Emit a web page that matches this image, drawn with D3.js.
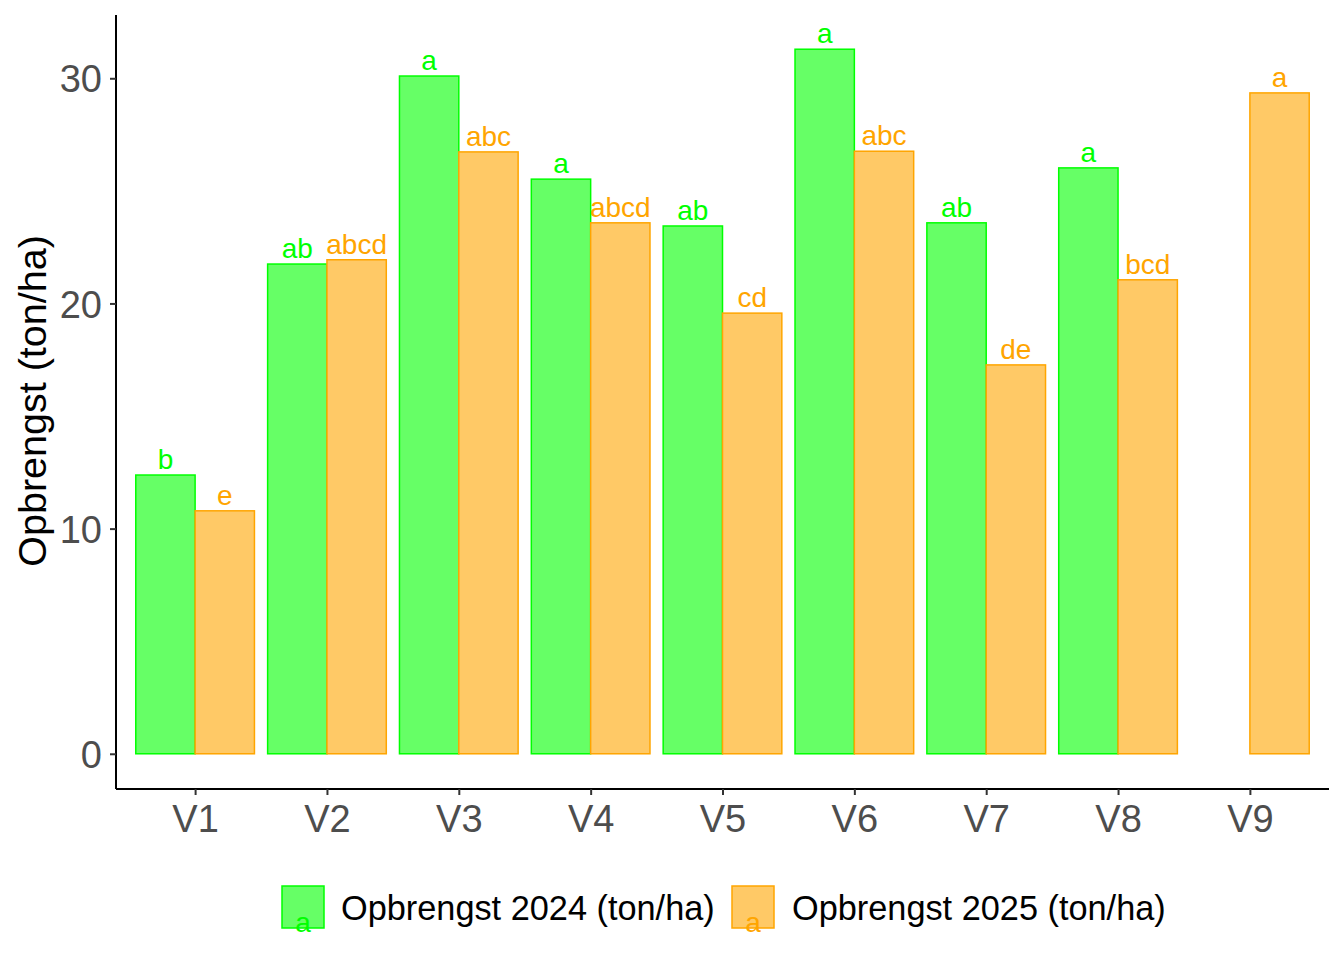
<!DOCTYPE html>
<html>
<head>
<meta charset="utf-8">
<script src="https://cdn.jsdelivr.net/npm/d3@7"></script>
<style>
  html, body { margin: 0; padding: 0; background: #ffffff; }
  svg { display: block; font-family: "Liberation Sans", Arial, sans-serif; }
</style>
</head>
<body>
<svg id="chart" width="1344" height="960"></svg>
<script>
const categories = ["V1", "V2", "V3", "V4", "V5", "V6", "V7", "V8", "V9"];
const series = ["Opbrengst 2024 (ton/ha)", "Opbrengst 2025 (ton/ha)"];
const values2024 = [12.38, 21.75, 30.10, 25.52, 23.44, 31.29, 23.58, 26.02, null];
const values2025 = [10.79, 21.94, 26.73, 23.58, 19.57, 26.76, 17.27, 21.05, 29.35];
const letters2024 = ["b", "ab", "a", "a", "ab", "a", "ab", "a", null];
const letters2025 = ["e", "abcd", "abc", "abcd", "cd", "abc", "de", "bcd", "a"];
const yTicks = [0, 10, 20, 30];
const strokeColors = ["#00FF00", "#FFA500"];
const fillColors = ["#66FF66", "#FFC966"];

const svg = d3.select("#chart");
const panel = { left: 116, right: 1329, top: 14, bottom: 789 };

const maxVal = d3.max([...values2024, ...values2025].filter(v => v != null));
const yMin = -0.05 * maxVal, yMax = maxVal * 1.05;

const x = d3.scalePoint().domain(categories).range([panel.left, panel.right]).padding(0.6);
const step = x.step();
const y = d3.scaleLinear().domain([yMin, yMax]).range([panel.bottom, panel.top]);

const rows = [];
categories.forEach((c, i) => {
  [values2024, values2025].forEach((arr, s) => {
    const lt = s === 0 ? letters2024 : letters2025;
    if (arr[i] != null) rows.push({ cat: c, s, v: arr[i], letter: lt[i] });
  });
});

const barW = 0.45 * step;
const gBars = svg.append("g");
gBars.selectAll("rect").data(rows).join("rect")
  .attr("x", d => x(d.cat) + (d.s === 0 ? -barW : 0))
  .attr("width", barW)
  .attr("y", d => y(d.v))
  .attr("height", d => y(0) - y(d.v))
  .attr("fill", d => fillColors[d.s])
  .attr("stroke", d => strokeColors[d.s])
  .attr("stroke-width", 1.5);

gBars.selectAll("text").data(rows).join("text")
  .attr("x", d => x(d.cat) + (d.s === 0 ? -barW / 2 : barW / 2))
  .attr("y", d => y(d.v) - 6)
  .attr("text-anchor", "middle")
  .attr("font-size", 28)
  .attr("fill", d => strokeColors[d.s])
  .text(d => d.letter);

// Axes
const yAxis = d3.axisLeft(y).tickValues(yTicks).tickSize(6).tickPadding(8).tickFormat(d3.format("d"));
const gy = svg.append("g").attr("transform", `translate(${panel.left},0)`).call(yAxis);
gy.select(".domain").attr("stroke", "#000").attr("stroke-width", 2)
  .attr("d", `M0,${panel.bottom}V${panel.top + 1}`);
gy.selectAll(".tick line").attr("stroke", "#333").attr("stroke-width", 2);
gy.selectAll(".tick text").attr("fill", "#4D4D4D").attr("font-size", 38)
  .attr("font-family", "Liberation Sans, Arial, sans-serif").attr("dy", "0.36em");

const xAxis = d3.axisBottom(x).tickSize(6).tickPadding(10);
const gx = svg.append("g").attr("transform", `translate(0,${panel.bottom})`).call(xAxis);
gx.select(".domain").attr("stroke", "#000").attr("stroke-width", 2)
  .attr("d", `M${panel.left},0H${panel.right}`);
gx.selectAll(".tick line").attr("stroke", "#333").attr("stroke-width", 2);
gx.selectAll(".tick text").attr("fill", "#4D4D4D").attr("font-size", 38)
  .attr("font-family", "Liberation Sans, Arial, sans-serif").attr("dy", "0.71em");

// Axis title
svg.append("text")
  .attr("transform", `translate(46,401) rotate(-90)`)
  .attr("text-anchor", "middle")
  .attr("font-size", 39.5)
  .attr("fill", "#000")
  .text("Opbrengst (ton/ha)");

// Legend
const legendItems = [
  { key: 282, text: 341 },
  { key: 732, text: 792 }
];
const gl = svg.append("g");
series.forEach((name, s) => {
  const it = legendItems[s];
  gl.append("rect").attr("x", it.key).attr("y", 886).attr("width", 42).attr("height", 42)
    .attr("fill", fillColors[s]).attr("stroke", strokeColors[s]).attr("stroke-width", 1.5);
  gl.append("text").attr("x", it.key + 21).attr("y", 932).attr("text-anchor", "middle")
    .attr("font-size", 28).attr("fill", strokeColors[s]).text("a");
  gl.append("text").attr("x", it.text).attr("y", 920).attr("font-size", 34.3)
    .attr("fill", "#000").text(name);
});
</script>
</body>
</html>
